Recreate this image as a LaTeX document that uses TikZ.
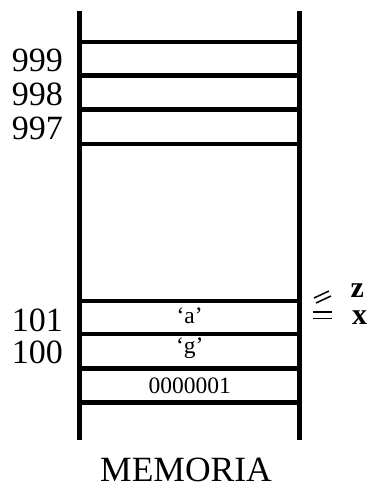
\documentclass[tikz,border=0pt]{standalone}
\usepackage{fontspec}
\setmainfont{Liberation Serif}

\begin{document}
\begin{tikzpicture}[x=1pt, y=-1pt,
  wall/.style={line width=4.5pt},
  shelf/.style={line width=4.5pt},
  addr/.style={anchor=base east, inner sep=0pt, font=\fontsize{34}{34}\selectfont},
  cell/.style={anchor=base, inner sep=0pt, font=\fontsize{23.5}{23.5}\selectfont},
  var/.style={anchor=base west, inner sep=0pt, font=\fontsize{30}{30}\selectfont\bfseries},
  ptr/.style={line width=1.5pt}
]
\useasboundingbox (0,0) rectangle (368,484);

%% ---- MEMORY COLUMN ----
\draw[wall] (79.7,11.5) -- (79.7,439.5);
\draw[wall] (299.7,11.5) -- (299.7,439.5);
\foreach \y in {42,75.5,109.5,144,301,334,368.5,402.5}
  \draw[shelf] (79.7,\y) -- (299.7,\y);

%% ---- ADDRESSES ----
\node[addr] (a999) at (63,71.5) {999};
\node[addr] (a998) at (63,105.5) {998};
\node[addr] (a997) at (63,139.5) {997};
\node[addr] (a101) at (63,331) {101};
\node[addr] (a100) at (63,363.5) {100};

%% ---- CONTENTS ----
\node[cell] (ca) at (189.7,323.5) {‘a’};
\node[cell] (cg) at (189.7,353) {‘g’};
\node[cell] (cn) at (189.7,393) {0000001};

%% ---- VARIABLES ----
\node[var] (vz) at (350.5,297.5) {z};
\node[var] (vx) at (352,324) {x};
\draw[ptr] (314,298) -- (329,291);
\draw[ptr] (316,303) -- (331,296);
\draw[ptr] (313,312) -- (331.5,312);
\draw[ptr] (313,318.5) -- (331.5,318.5);

\node[anchor=base, inner sep=0pt, font=\fontsize{35.5}{35.5}\selectfont] (title) at (186,481) {MEMORIA};

\end{tikzpicture}
\end{document}
